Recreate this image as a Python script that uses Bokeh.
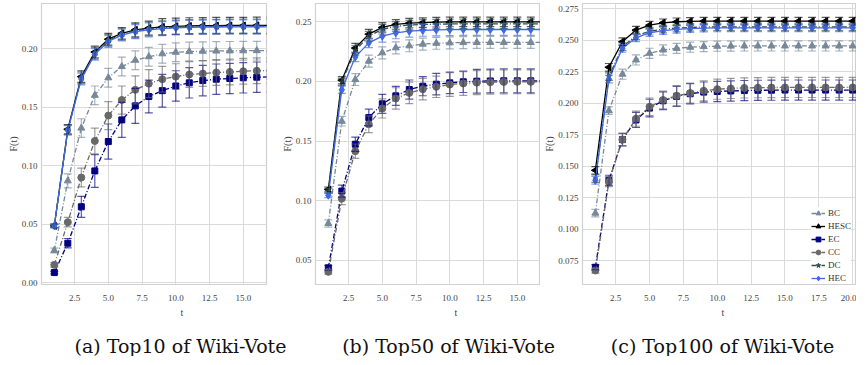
import math
import numpy as np
from bokeh.plotting import figure
from bokeh.layouts import row, column
from bokeh.models import (ColumnDataSource, Whisker, TeeHead, FixedTicker, Legend,
                          LegendItem, Title, NumeralTickFormatter, Range1d)
from bokeh.core.properties import value
from bokeh.embed import file_html
from bokeh.resources import INLINE

# ---------------- data ----------------
methods = ["BC", "HESC", "EC", "CC", "DC", "HEC"]

t_a = [1, 2, 3, 4, 5, 6, 7, 8, 9, 10, 11, 12, 13, 14, 15, 16, 17]
a_BC = [0.0274, 0.0869, 0.132, 0.160, 0.175, 0.1846, 0.1900, 0.1930, 0.1955, 0.1968, 0.1974, 0.1977, 0.1979, 0.1980, 0.1981, 0.1982, 0.1982]
a_HESC = [0.0484, 0.131, 0.176, 0.197, 0.208, 0.2130, 0.2160, 0.2175, 0.2185, 0.2190, 0.2193, 0.2195, 0.2196, 0.2197, 0.2197, 0.2198, 0.2198]
a_EC = [0.0085, 0.0336, 0.0647, 0.0954, 0.1205, 0.139, 0.151, 0.159, 0.164, 0.168, 0.1707, 0.1726, 0.1738, 0.1744, 0.1750, 0.1755, 0.1758]
a_CC = [0.0151, 0.0516, 0.0897, 0.121, 0.1427, 0.156, 0.1647, 0.1700, 0.1738, 0.1760, 0.1778, 0.1786, 0.1795, 0.1800, 0.1806, 0.1810, 0.1812]
a_DC = [0.0484, 0.1305, 0.175, 0.196, 0.207, 0.2122, 0.2152, 0.2167, 0.2177, 0.2183, 0.2187, 0.2189, 0.2190, 0.2191, 0.2191, 0.2192, 0.2192]
a_HEC = [0.0484, 0.130, 0.174, 0.195, 0.206, 0.2115, 0.2145, 0.2160, 0.2170, 0.2177, 0.2181, 0.2183, 0.2184, 0.2185, 0.2185, 0.2186, 0.2186]
a_err_BC = [0.002, 0.006, 0.008, 0.008, 0.008, 0.008, 0.008, 0.008, 0.008, 0.008, 0.008, 0.008, 0.008, 0.008, 0.008, 0.008, 0.008]
a_err_HESC = [0.0015, 0.004, 0.005, 0.005, 0.005, 0.005, 0.006, 0.006, 0.007, 0.007, 0.007, 0.007, 0.007, 0.007, 0.007, 0.007, 0.007]
a_err_EC = [0.001, 0.004, 0.009, 0.014, 0.015, 0.015, 0.015, 0.014, 0.014, 0.013, 0.013, 0.013, 0.013, 0.013, 0.013, 0.013, 0.013]
a_err_CC = [0.002, 0.004, 0.008, 0.011, 0.012, 0.012, 0.012, 0.012, 0.011, 0.011, 0.011, 0.011, 0.011, 0.011, 0.011, 0.011, 0.011]
a_err_DC = [0.0015, 0.004, 0.005, 0.005, 0.005, 0.005, 0.006, 0.006, 0.006, 0.006, 0.006, 0.006, 0.006, 0.006, 0.006, 0.006, 0.006]
a_err_HEC = [0.0015, 0.004, 0.005, 0.005, 0.005, 0.005, 0.006, 0.006, 0.006, 0.006, 0.006, 0.006, 0.006, 0.006, 0.006, 0.006, 0.006]

t_b = [1, 2, 3, 4, 5, 6, 7, 8, 9, 10, 11, 12, 13, 14, 15, 16, 17]
b_BC = [0.0808, 0.1666, 0.2016, 0.217, 0.224, 0.2282, 0.2299, 0.2313, 0.2320, 0.2324, 0.2326, 0.2327, 0.2327, 0.2327, 0.2327, 0.2327, 0.2327]
b_HESC = [0.1093, 0.201, 0.228, 0.2397, 0.2453, 0.2478, 0.2489, 0.2494, 0.2497, 0.2499, 0.2500, 0.2500, 0.2500, 0.2500, 0.2500, 0.2500, 0.2500]
b_EC = [0.0436, 0.108, 0.1473, 0.1697, 0.1812, 0.1879, 0.1932, 0.1960, 0.1977, 0.1988, 0.1997, 0.2002, 0.2004, 0.2005, 0.2005, 0.2005, 0.2005]
b_CC = [0.0402, 0.1017, 0.1415, 0.1641, 0.1773, 0.1857, 0.1904, 0.1935, 0.1955, 0.1974, 0.1983, 0.1990, 0.1994, 0.1996, 0.1997, 0.1997, 0.1997]
b_DC = [0.108, 0.1996, 0.226, 0.238, 0.2438, 0.2462, 0.2473, 0.2478, 0.2481, 0.2482, 0.2483, 0.2483, 0.2483, 0.2483, 0.2483, 0.2483, 0.2483]
b_HEC = [0.1045, 0.193, 0.2206, 0.2324, 0.238, 0.2408, 0.2422, 0.2429, 0.2433, 0.2435, 0.2436, 0.2436, 0.2436, 0.2436, 0.2436, 0.2436, 0.2436]
b_err_BC = [0.003, 0.004, 0.005, 0.005, 0.005, 0.005, 0.005, 0.005, 0.005, 0.005, 0.005, 0.005, 0.005, 0.005, 0.005, 0.005, 0.005]
b_err_HESC = [0.002, 0.003, 0.004, 0.004, 0.004, 0.004, 0.004, 0.004, 0.004, 0.004, 0.004, 0.004, 0.004, 0.004, 0.004, 0.004, 0.004]
b_err_EC = [0.002, 0.005, 0.006, 0.007, 0.008, 0.008, 0.008, 0.008, 0.009, 0.009, 0.009, 0.010, 0.010, 0.010, 0.010, 0.010, 0.010]
b_err_CC = [0.002, 0.005, 0.006, 0.007, 0.008, 0.009, 0.009, 0.009, 0.009, 0.010, 0.010, 0.010, 0.010, 0.010, 0.010, 0.010, 0.010]
b_err_DC = [0.002, 0.003, 0.004, 0.004, 0.004, 0.004, 0.004, 0.004, 0.004, 0.004, 0.004, 0.004, 0.004, 0.004, 0.004, 0.004, 0.004]
b_err_HEC = [0.002, 0.003, 0.004, 0.004, 0.005, 0.005, 0.005, 0.005, 0.005, 0.005, 0.005, 0.005, 0.005, 0.005, 0.005, 0.005, 0.005]

t_c = [1, 2, 3, 4, 5, 6, 7, 8, 9, 10, 11, 12, 13, 14, 15, 16, 17, 18, 19, 20]
c_BC = [0.1126, 0.194, 0.2229, 0.2342, 0.2395, 0.2421, 0.2434, 0.2443, 0.2448, 0.2451, 0.2452, 0.2453, 0.2453, 0.2453, 0.2453, 0.2453, 0.2453, 0.2453, 0.2453, 0.2453]
c_HESC = [0.1466, 0.2284, 0.2487, 0.2579, 0.2618, 0.2637, 0.2645, 0.2648, 0.2650, 0.2650, 0.2650, 0.2650, 0.2650, 0.2650, 0.2650, 0.2650, 0.2650, 0.2650, 0.2650, 0.2650]
c_EC = [0.0697, 0.1387, 0.171, 0.1866, 0.196, 0.2018, 0.2053, 0.2074, 0.2087, 0.2092, 0.2096, 0.2099, 0.2101, 0.2102, 0.2103, 0.2103, 0.2103, 0.2103, 0.2103, 0.2103]
c_CC = [0.0671, 0.1376, 0.171, 0.1876, 0.197, 0.2024, 0.2058, 0.2079, 0.2097, 0.2110, 0.2116, 0.2120, 0.2122, 0.2123, 0.2124, 0.2124, 0.2124, 0.2124, 0.2124, 0.2124]
c_DC = [0.140, 0.221, 0.2447, 0.2534, 0.257, 0.2587, 0.2595, 0.2600, 0.2603, 0.2604, 0.2605, 0.2605, 0.2605, 0.2605, 0.2605, 0.2605, 0.2605, 0.2605, 0.2605, 0.2605]
c_HEC = [0.1387, 0.219, 0.2434, 0.2518, 0.2558, 0.2574, 0.2584, 0.2590, 0.2594, 0.2596, 0.2597, 0.2597, 0.2597, 0.2597, 0.2597, 0.2597, 0.2597, 0.2597, 0.2597, 0.2597]
c_err_BC = [0.003, 0.003, 0.004, 0.004, 0.004, 0.004, 0.004, 0.004, 0.004, 0.004, 0.004, 0.004, 0.004, 0.004, 0.004, 0.004, 0.004, 0.004, 0.004, 0.004]
c_err_HESC = [0.003, 0.003, 0.003, 0.003, 0.003, 0.003, 0.003, 0.003, 0.003, 0.003, 0.003, 0.003, 0.003, 0.003, 0.003, 0.003, 0.003, 0.003, 0.003, 0.003]
c_err_EC = [0.002, 0.004, 0.005, 0.006, 0.007, 0.007, 0.008, 0.008, 0.008, 0.008, 0.008, 0.008, 0.008, 0.008, 0.008, 0.008, 0.008, 0.008, 0.008, 0.008]
c_err_CC = [0.002, 0.004, 0.005, 0.006, 0.007, 0.007, 0.008, 0.008, 0.008, 0.008, 0.008, 0.008, 0.008, 0.008, 0.008, 0.008, 0.008, 0.008, 0.008, 0.008]
c_err_DC = [0.003, 0.003, 0.003, 0.003, 0.003, 0.003, 0.003, 0.003, 0.003, 0.003, 0.003, 0.003, 0.003, 0.003, 0.003, 0.003, 0.003, 0.003, 0.003, 0.003]
c_err_HEC = [0.003, 0.003, 0.003, 0.003, 0.003, 0.003, 0.003, 0.003, 0.003, 0.003, 0.003, 0.003, 0.003, 0.003, 0.003, 0.003, 0.003, 0.003, 0.003, 0.003]

x_ticks = [2.5, 5.0, 7.5, 10.0, 12.5, 15.0, 17.5, 20.0]
y_ticks_ab = [0.00, 0.05, 0.10, 0.15, 0.20, 0.25]
y_ticks_c = [0.075, 0.100, 0.125, 0.150, 0.175, 0.200, 0.225, 0.250, 0.275]
captions = ["(a) Top10 of Wiki-Vote", "(b) Top50 of Wiki-Vote", "(c) Top100 of Wiki-Vote"]

# ---------------- styles ----------------
STYLE = {
    "BC":   dict(color="#778899", marker="triangle", size=7, dash="5 2 1 2", angle=0.0),
    "HESC": dict(color="#000000", marker="triangle", size=7, dash="solid", angle=math.pi / 2),
    "EC":   dict(color="#000080", marker="square", size=6, dash="5 2 1 2", angle=0.0),
    "CC":   dict(color="#696969", marker="circle", size=7, dash="5 2 1 2", angle=0.0),
    "DC":   dict(color="#2F4F4F", marker="star", size=5, dash="5 2 1 2", angle=0.0),
    "HEC":  dict(color="#4169E1", marker="diamond", size=8, dash="solid", angle=0.0),
}
SERIF = "Liberation Serif"


def make_panel(t, series, errs, yr, xr, yticks, yfmt, frame_w, border_left, border_right, legend=False):
    p = figure(frame_width=frame_w, frame_height=281, x_range=Range1d(*xr), y_range=Range1d(*yr),
               output_backend="svg", toolbar_location=None,
               min_border_left=border_left, min_border_right=border_right,
               min_border_top=3, min_border_bottom=36)
    p.background_fill_color = "white"
    p.outline_line_color = "#d0d0d0"
    p.outline_line_width = 1.2
    p.xaxis.ticker = FixedTicker(ticks=x_ticks)
    p.yaxis.ticker = FixedTicker(ticks=yticks)
    p.xaxis.formatter = NumeralTickFormatter(format="0.0")
    p.yaxis.formatter = NumeralTickFormatter(format=yfmt)
    for ax in (p.xaxis[0], p.yaxis[0]):
        ax.axis_line_color = None
        ax.major_tick_line_color = None
        ax.minor_tick_line_color = None
        ax.major_tick_out = 0
        ax.major_tick_in = 0
        ax.major_label_text_font = SERIF
        ax.major_label_text_font_size = "9px"
        ax.major_label_text_color = "#444444"
    p.xaxis.major_label_standoff = 10
    p.yaxis.major_label_standoff = 4
    p.yaxis.axis_label = "F(t)"
    p.yaxis.axis_label_text_font = SERIF
    p.yaxis.axis_label_text_font_size = "10px"
    p.yaxis.axis_label_text_font_style = "normal"
    p.yaxis.axis_label_text_color = "#444444"
    p.yaxis.axis_label_standoff = 0
    p.grid.grid_line_color = "#dadada"
    p.grid.grid_line_width = 1

    tl = Title(text="t", align="left", offset=139, text_font=SERIF, text_font_size="10px",
               text_font_style="normal", text_color="#444444", standoff=3)
    p.add_layout(tl, "below")

    items = []
    for m in methods:
        st = STYLE[m]
        vals = np.array(series[m])
        e = np.array(errs[m])
        src = ColumnDataSource(dict(t=t, v=vals, lo=vals - e, hi=vals + e))
        w = Whisker(source=src, base="t", lower="lo", upper="hi", dimension="height",
                    line_color=st["color"], line_alpha=0.65, line_width=1.2,
                    upper_head=TeeHead(size=8, line_color=st["color"], line_alpha=0.65, line_width=1.2),
                    lower_head=TeeHead(size=8, line_color=st["color"], line_alpha=0.65, line_width=1.2),
                    level="glyph")
        p.add_layout(w)
        lr = p.line("t", "v", source=src, line_color=st["color"], line_width=1.3, line_dash=st["dash"])
        sr = p.scatter("t", "v", source=src, marker=st["marker"], size=st["size"], angle=st["angle"],
                       fill_color=st["color"], line_color=st["color"])
        items.append(LegendItem(label=m, renderers=[lr, sr]))
    if legend:
        lg = Legend(items=items, location=(229, 0), label_text_font=SERIF, label_text_font_size="9px",
                    label_text_color="#333333", glyph_width=14, glyph_height=12, label_height=12,
                    spacing=1, padding=3, margin=0, border_line_color=None,
                    background_fill_color="white", background_fill_alpha=1.0, label_standoff=3)
        p.add_layout(lg)
    return p


pa = make_panel(t_a,
                dict(BC=a_BC, HESC=a_HESC, EC=a_EC, CC=a_CC, DC=a_DC, HEC=a_HEC),
                dict(BC=a_err_BC, HESC=a_err_HESC, EC=a_err_EC, CC=a_err_CC, DC=a_err_DC, HEC=a_err_HEC),
                (-0.0017, 0.2385), (0.05, 16.72), y_ticks_ab, "0.00", 225, 41, 8)
pb = make_panel(t_b,
                dict(BC=b_BC, HESC=b_HESC, EC=b_EC, CC=b_CC, DC=b_DC, HEC=b_HEC),
                dict(BC=b_err_BC, HESC=b_err_HESC, EC=b_err_EC, CC=b_err_CC, DC=b_err_DC, HEC=b_err_HEC),
                (0.0296, 0.2654), (0.05, 16.72), y_ticks_ab, "0.00", 225, 41, 0)
pc = make_panel(t_c,
                dict(BC=c_BC, HESC=c_HESC, EC=c_EC, CC=c_CC, DC=c_DC, HEC=c_HEC),
                dict(BC=c_err_BC, HESC=c_err_HESC, EC=c_err_EC, CC=c_err_CC, DC=c_err_DC, HEC=c_err_HEC),
                (0.056, 0.279), (0.05, 20.28), y_ticks_c, "0.000", 274, 42, 0, legend=True)

# caption strip (no title panel, so the frame fills the whole canvas)
cap_x = [180, 448, 722]
cap_y = [11, 11, 11]
cap = figure(width=860, height=36, x_range=Range1d(0, 860), y_range=Range1d(0, 36),
             output_backend="svg", toolbar_location=None, min_border=0, title_location=None)
cap.axis.visible = False
cap.grid.visible = False
cap.outline_line_color = None
cap.text(x=cap_x, y=cap_y, text=captions, text_font=value("DejaVu Serif"), text_font_size="19px",
         text_align="center", text_baseline="alphabetic", text_color="#111111")

layout = column(row(pa, pb, pc), cap)
open("out.html", "w").write(file_html(layout, INLINE))
